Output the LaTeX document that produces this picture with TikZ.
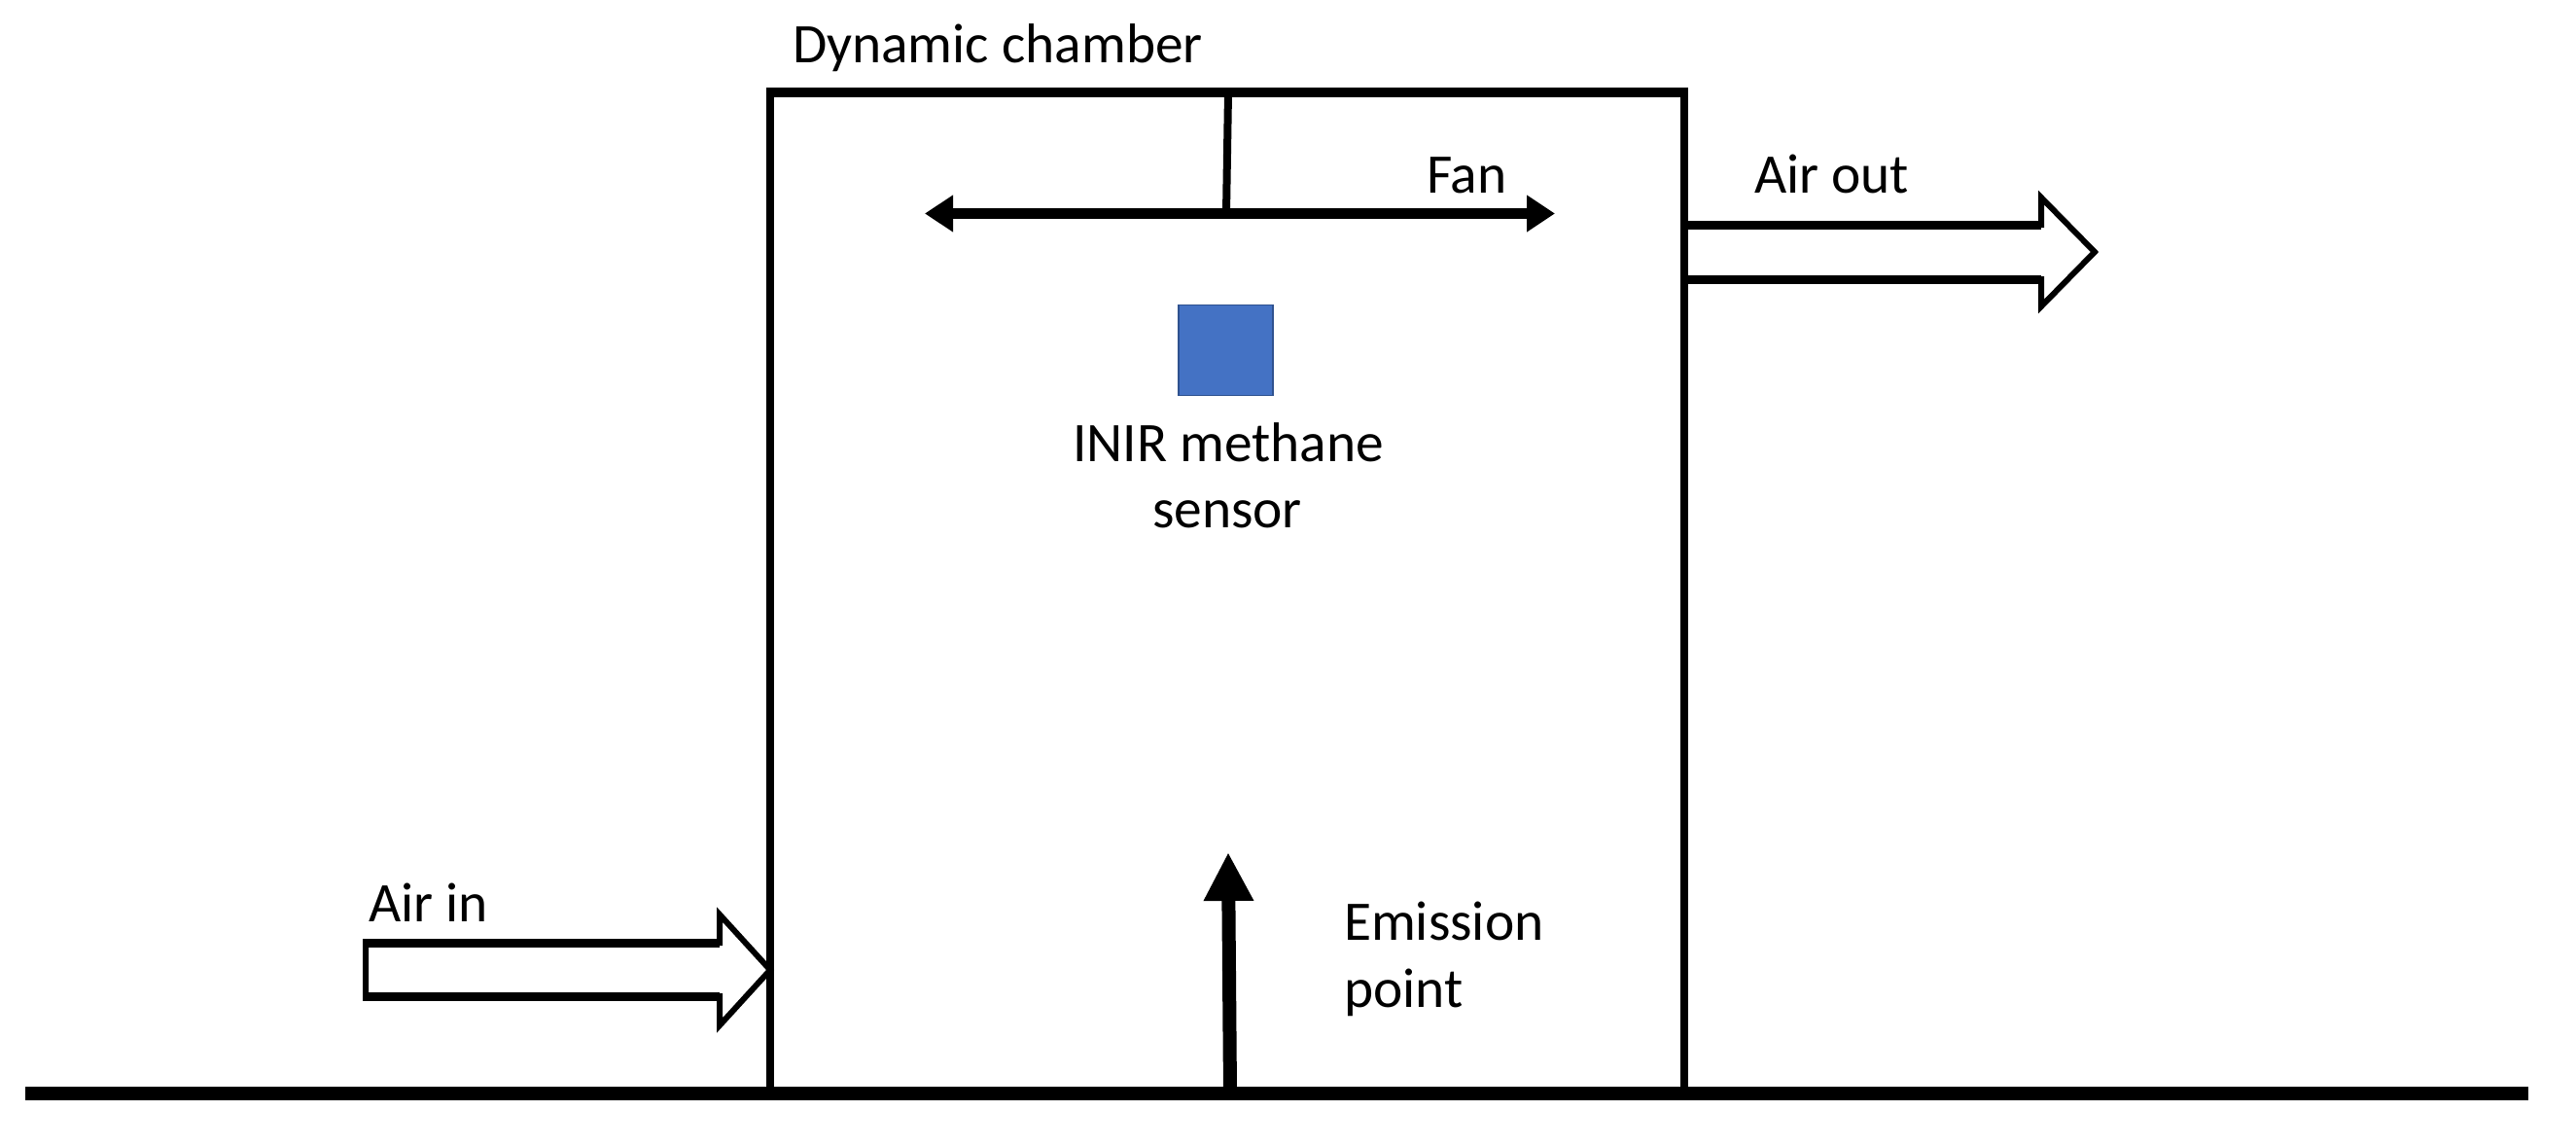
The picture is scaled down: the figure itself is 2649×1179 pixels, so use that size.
\documentclass[tikz,border=0pt]{standalone}
\usepackage{fontspec}
\setmainfont{Carlito}
\usetikzlibrary{arrows.meta}
\newcommand{\pxw}[1]{#1*0.03cm}
\tikzset{
  x=0.03cm,y=-0.03cm,
  wall/.style={line width=\pxw{8},line join=miter,draw=black},
  block/.style={line width=\pxw{6},draw=black,fill=white,line join=miter,miter limit=10},
  shaft/.style={line width=\pxw{9},draw=black},
  lbl/.style={anchor=base west,inner sep=0pt,outer sep=0pt,font=\fontsize{49}{58}\selectfont,text=black},
  fanline/.style={line width=\pxw{11},draw=black,{Triangle[length=\pxw{29},width=\pxw{36}]}-{Triangle[length=\pxw{29},width=\pxw{36}]}},
}
\definecolor{sensorblue}{HTML}{4472C4}
\definecolor{sensoredge}{HTML}{2F528F}
\begin{document}
\begin{tikzpicture}
\useasboundingbox (0,0) rectangle (2649,1179);
% air out block arrow (behind the chamber)
\coordinate (ao1) at (1732,231);
\coordinate (ao2) at (2099,231);
\coordinate (ao3) at (2099,203);
\coordinate (ao4) at (2154,259);
\coordinate (ao5) at (2099,315);
\coordinate (ao6) at (2099,287);
\coordinate (ao7) at (1732,287);
\draw[block] (ao1) -- (ao2) -- (ao3) -- (ao4) -- (ao5) -- (ao6) -- (ao7);
\draw[shaft] (ao1) -- (ao2);
\draw[shaft] (ao7) -- (ao6);
% air in block arrow
\coordinate (ai1) at (376,969);
\coordinate (ai2) at (740,969);
\coordinate (ai3) at (740,940);
\coordinate (ai4) at (792,997);
\coordinate (ai5) at (740,1054);
\coordinate (ai6) at (740,1024);
\coordinate (ai7) at (376,1024);
\draw[block] (ai1) -- (ai2) -- (ai3) -- (ai4) -- (ai5) -- (ai6) -- (ai7) -- cycle;
\draw[shaft,shorten <=\pxw{-3}] (ai1) -- (ai2);
\draw[shaft,shorten <=\pxw{-3}] (ai7) -- (ai6);
% chamber
\coordinate (cbl) at (792,1123);
\coordinate (cbr) at (1732,1123);
\coordinate (ctl) at (792,95.5);
\coordinate (ctr) at (1732,95.5);
\draw[wall] (cbl) -- (ctl) -- (ctr) -- (cbr);
\draw[line width=\pxw{10},draw=black,shorten <=\pxw{-4},shorten >=\pxw{-4}] (ctl) -- (ctr);
% ground
\coordinate (g1) at (26,1124);
\coordinate (g2) at (2600,1124);
\draw[line width=\pxw{14},draw=black] (g1) -- (g2);
% fan
\coordinate (fl) at (951,219.5);
\coordinate (fr) at (1599,219.5);
\coordinate (fm) at (1261,219.5);
\coordinate (ft) at (1263,95.5);
\draw[line width=\pxw{8},draw=black] (ft) -- (fm);
\draw[fanline] (fl) -- (fr);
% sensor
\node[draw=sensoredge,fill=sensorblue,line width=\pxw{1.5},minimum width=\pxw{97},minimum height=\pxw{93},inner sep=0pt,outer sep=0pt] (sensor) at (1260.5,360) {};
% emission arrow
\coordinate (e1) at (1265,1124);
\coordinate (e2) at (1263,876);
\draw[line width=\pxw{14},draw=black,-{Triangle[length=\pxw{50},width=\pxw{48}]}] (e1) -- (e2);
% labels
\node[lbl] (tchamber) at (815,65) {Dynamic chamber};
\node[lbl] (tfan) at (1467,198) {Fan};
\node[lbl] (tout) at (1804,198) {Air out};
\node[lbl] (tinir) at (1103,474) {INIR methane};
\node[lbl] (tsensor) at (1185,542) {sensor};
\node[lbl] (tin) at (379,947) {Air in};
\node[lbl] (tem) at (1382,966) {Emission};
\node[lbl] (tpt) at (1382,1035) {point};
\end{tikzpicture}
\end{document}
